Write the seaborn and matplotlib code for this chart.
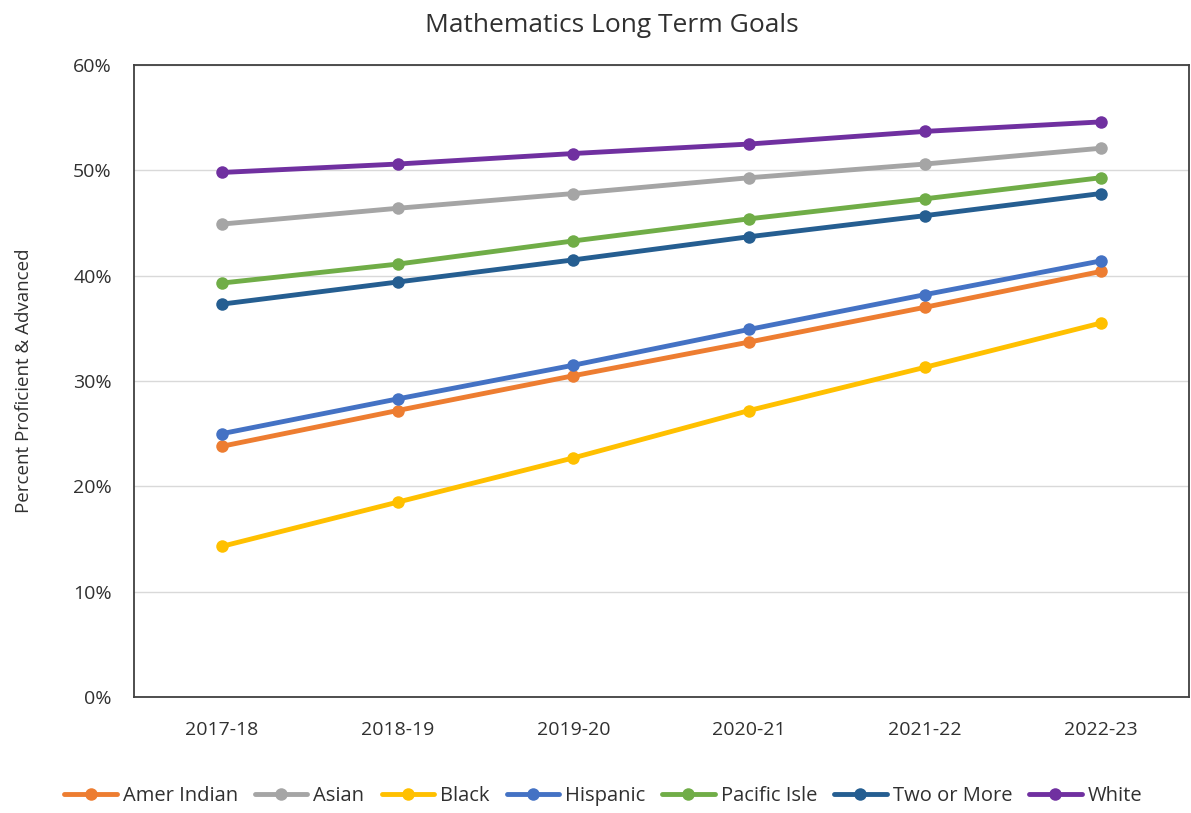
import matplotlib
matplotlib.use("Agg")
import matplotlib.pyplot as plt
import pandas as pd
import seaborn as sns
from matplotlib.ticker import PercentFormatter

years = ["2017-18", "2018-19", "2019-20", "2020-21", "2021-22", "2022-23"]
amer_indian = [23.8, 27.2, 30.5, 33.7, 37.0, 40.4]
asian = [44.9, 46.4, 47.8, 49.3, 50.6, 52.1]
black = [14.3, 18.5, 22.7, 27.2, 31.3, 35.5]
hispanic = [25.0, 28.3, 31.5, 34.9, 38.2, 41.4]
pacific_isle = [39.3, 41.1, 43.3, 45.4, 47.3, 49.3]
two_or_more = [37.3, 39.4, 41.5, 43.7, 45.7, 47.8]
white = [49.8, 50.6, 51.6, 52.5, 53.7, 54.6]

groups = ["Amer Indian", "Asian", "Black", "Hispanic", "Pacific Isle", "Two or More", "White"]
series = [amer_indian, asian, black, hispanic, pacific_isle, two_or_more, white]
colors = ["#ED7D31", "#A5A5A5", "#FFC000", "#4472C4", "#70AD47", "#255E91", "#7030A0"]

rows = []
for g, vals in zip(groups, series):
    for i, v in enumerate(vals):
        rows.append({"idx": i, "value": v, "group": g})
df = pd.DataFrame(rows)

sns.set_style("white")
plt.rcParams["font.family"] = ["Open Sans", "DejaVu Sans"]
txt = "#303030"

fig = plt.figure(figsize=(11.91, 8.13), dpi=100)
ax = fig.add_axes([0.1125, 0.1427, 0.8855, 0.7773])

sns.lineplot(data=df, x="idx", y="value", hue="group", hue_order=groups,
             palette=colors, marker="o", markersize=9, markeredgewidth=0,
             linewidth=3.5, ax=ax, legend=True)

ax.set_xlim(-0.5, 5.5)
ax.set_ylim(0, 60)
ax.set_xticks(range(len(years)))
ax.set_xticklabels(years, fontsize=14, color=txt)
ax.set_yticks(range(0, 61, 10))
ax.yaxis.set_major_formatter(PercentFormatter(decimals=0))
ax.tick_params(axis="y", labelsize=14, length=0, pad=16, labelcolor=txt)
ax.tick_params(axis="x", length=0, pad=17)
ax.grid(axis="y", color="#D9D9D9", linewidth=1)
ax.set_axisbelow(True)
for s in ax.spines.values():
    s.set_color("#404040")
    s.set_linewidth(1.3)

ax.set_xlabel("")
ax.set_ylabel("Percent Proficient & Advanced", fontsize=13.5, labelpad=29, color=txt)
ax.set_title("Mathematics Long Term Goals", fontsize=19, pad=24, color=txt, x=0.453)

handles, labels = ax.get_legend_handles_labels()
leg = ax.legend(handles, labels, loc="center", bbox_to_anchor=(0.445, -0.157),
                ncol=7, frameon=False, fontsize=14.5, handlelength=2.6,
                handletextpad=0.3, columnspacing=0.85)
for t in leg.get_texts():
    t.set_color(txt)

fig.savefig("out.png", dpi=100)
